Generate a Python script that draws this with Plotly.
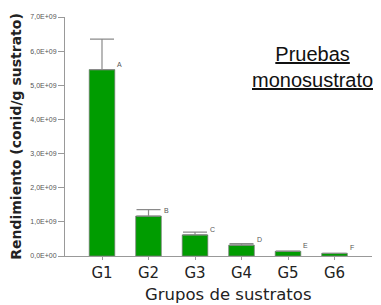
import plotly.graph_objects as go

categories = ["G1", "G2", "G3", "G4", "G5", "G6"]
values = [5.46e9, 1.17e9, 0.62e9, 0.32e9, 0.14e9, 0.08e9]
errors = [0.89e9, 0.19e9, 0.08e9, 0.04e9, 0.0, 0.0]
letters = ["A", "B", "C", "D", "E", "F"]
ytick_vals = [0, 1e9, 2e9, 3e9, 4e9, 5e9, 6e9, 7e9]
ytick_text = ["0,0E+00", "1,0E+09", "2,0E+09", "3,0E+09", "4,0E+09", "5,0E+09", "6,0E+09", "7,0E+09"]

fig = go.Figure()
fig.add_trace(go.Bar(
    x=list(range(len(categories))), y=values, width=0.55,
    marker=dict(color="#009C00", line=dict(color="#777777", width=0.7)),
    error_y=dict(type="data", array=errors, arrayminus=[0] * len(errors), symmetric=False,
                 color="#8a8a8a", thickness=1.2, width=12, visible=True),
))

for i, (v, l) in enumerate(zip(values, letters)):
    fig.add_annotation(x=i + 0.28, y=v, text=l, showarrow=False, xanchor="left", yanchor="bottom",
                       xshift=0, yshift=0,
                       font=dict(family="Liberation Sans, Arial", size=7, color="#555555"))

fig.add_annotation(xref="paper", yref="paper", x=0.805, y=0.79,
                   text="<u>Pruebas</u><br><u>monosustrato</u>", showarrow=False,
                   xanchor="center", yanchor="middle",
                   font=dict(family="Liberation Sans, Arial", size=20, color="#111111"))

fig.add_annotation(xref="paper", yref="paper", x=0.532, y=-0.163,
                   text="Grupos de sustratos", showarrow=False,
                   xanchor="center", yanchor="middle",
                   font=dict(family="DejaVu Sans", size=16.5, color="#222222"))

fig.update_layout(
    template="none",
    width=373, height=297,
    margin=dict(l=57, r=9, t=9, b=49),
    paper_bgcolor="white", plot_bgcolor="white",
    showlegend=False,
    xaxis=dict(
        automargin=False,
        range=[-0.7957, 5.806], tickmode="array", tickvals=list(range(len(categories))), ticktext=categories,
        showline=True, linecolor="#999999", linewidth=1, ticks="outside", ticklen=3, tickcolor="#999999",
        showgrid=False, zeroline=False,
        tickfont=dict(family="DejaVu Sans", size=15, color="#222222"),
    ),
    yaxis=dict(
        automargin=False,
        range=[0, 7e9], tickmode="array", tickvals=ytick_vals, ticktext=ytick_text,
        showline=True, linecolor="#999999", linewidth=1, ticks="outside", ticklen=6, tickcolor="#999999",
        showgrid=False, zeroline=False,
        tickfont=dict(family="Liberation Sans, Arial", size=7, color="#555555"),
        title=dict(text="<b>Rendimiento (conid/g sustrato)</b>", standoff=8,
                   font=dict(family="DejaVu Sans", size=14, color="#222222")),
    ),
)

fig.write_html("out.html")
